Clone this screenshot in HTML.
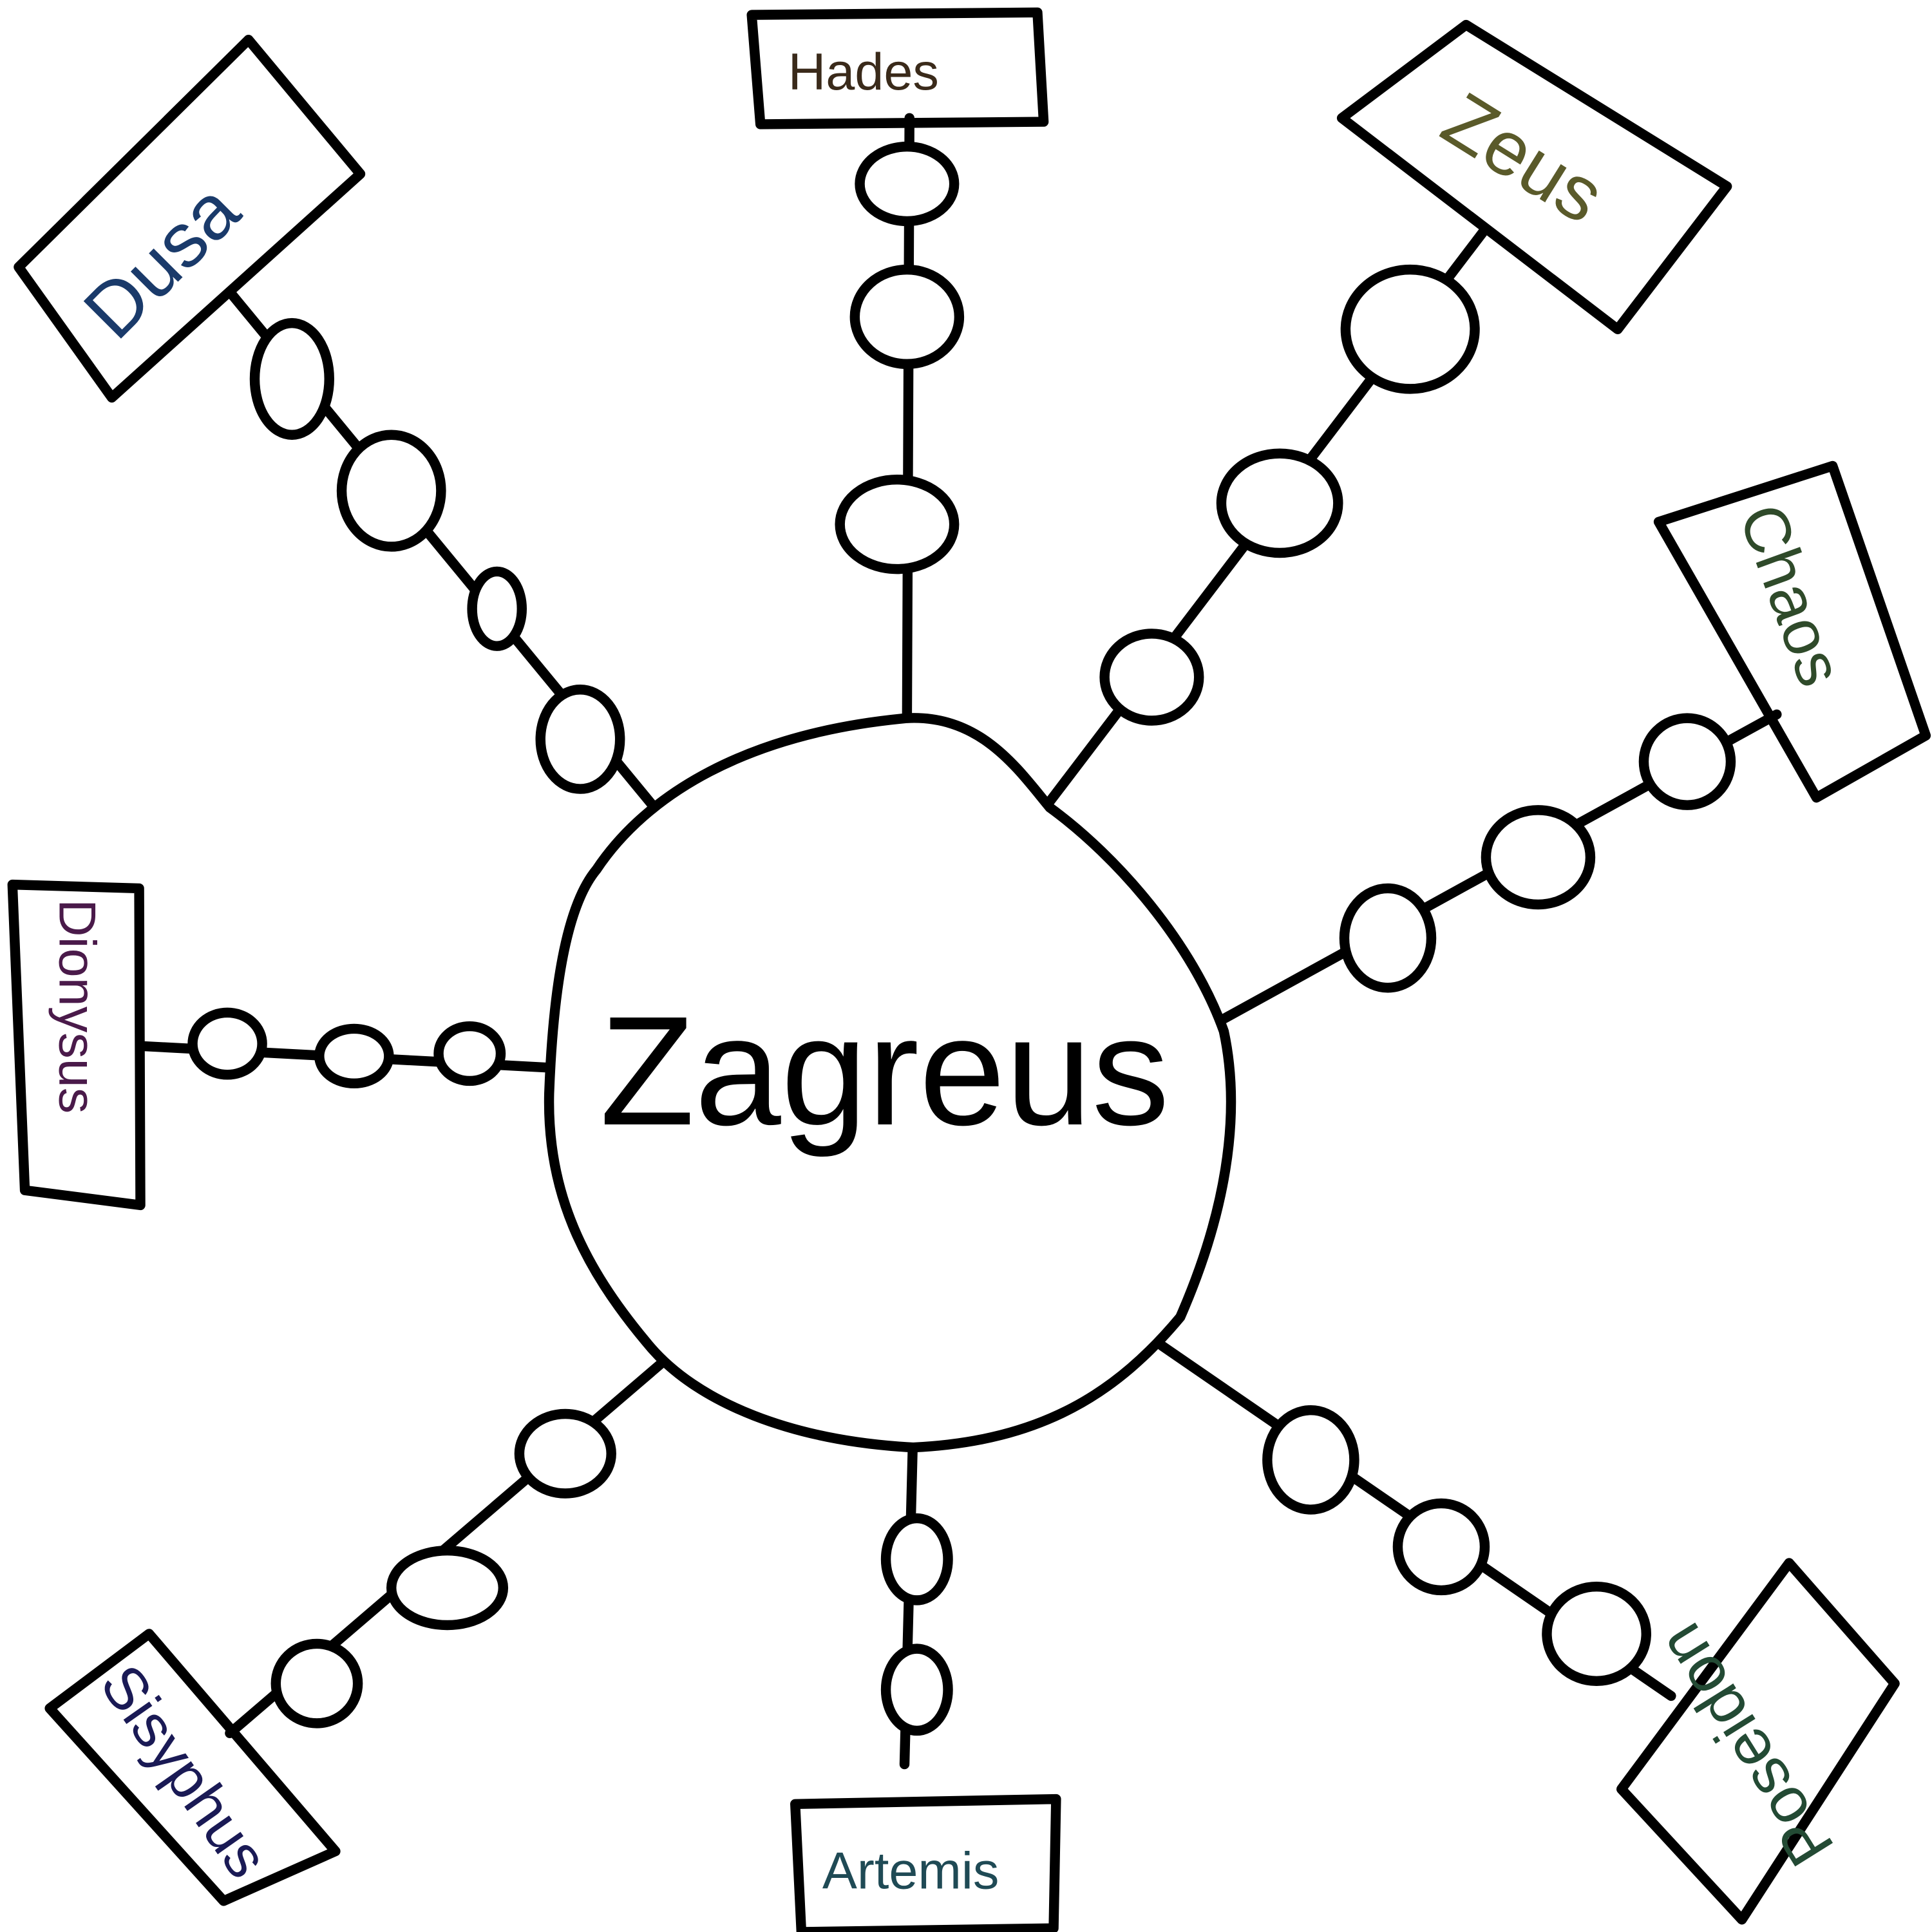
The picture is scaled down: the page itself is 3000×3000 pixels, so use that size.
<!DOCTYPE html>
<html><head><meta charset="utf-8"><style>
html,body{margin:0;padding:0;background:#fff;width:3000px;height:3000px;overflow:hidden}
svg{display:block}
text{font-family:"Liberation Sans",sans-serif}
</style></head><body>
<svg width="3000" height="3000" viewBox="0 0 1555 1555" xmlns="http://www.w3.org/2000/svg">
<g fill="none" stroke="#000" stroke-width="8" stroke-linecap="round" stroke-linejoin="round">
<path d="M732,95 L730,580"/>
<path d="M1195,185 L845,645"/>
<path d="M1430,575 L985,820"/>
<path d="M935,1083 L1345,1365"/>
<path d="M735,1150 L728,1420"/>
<path d="M535,1095 L185,1395"/>
<path d="M115,842 L455,860"/>
<path d="M185,235 L535,660"/>
<path d="M605,12 L835,10 L840,98 L612,100 Z"/>
<path d="M1080,95 L1180,20 L1390,150 L1302,265 Z"/>
<path d="M1335,420 L1475,375 L1550,592 L1462,642 Z"/>
<path d="M1440,1258 L1525,1355 L1402,1545 L1305,1440 Z"/>
<path d="M640,1452 L850,1448 L848,1552 L645,1555 Z"/>
<path d="M40,1375 L120,1315 L270,1490 L180,1530 Z"/>
<path d="M10,712 L112,715 L113,970 L20,958 Z"/>
<path d="M15,215 L200,32 L290,140 L90,320 Z"/>
</g>
<g fill="#fff" stroke="#000" stroke-width="8">
<path d="M730,578 C790,575 820,620 845,650 C900,690 960,760 985,830 C1000,900 985,980 950,1060 C900,1120 840,1160 735,1165 C640,1160 560,1130 520,1080 C470,1020 440,960 442,880 C445,800 455,730 480,700 C520,640 600,590 730,578 Z"/>
<ellipse cx="730" cy="148" rx="38" ry="30"/>
<ellipse cx="730" cy="255" rx="42" ry="38"/>
<ellipse cx="722" cy="422" rx="46" ry="36"/>
<ellipse cx="1135" cy="265" rx="52" ry="48"/>
<ellipse cx="1030" cy="405" rx="47" ry="40"/>
<ellipse cx="927" cy="545" rx="38" ry="35"/>
<ellipse cx="1358" cy="613" rx="35" ry="35"/>
<ellipse cx="1238" cy="690" rx="42" ry="38"/>
<ellipse cx="1117" cy="755" rx="35" ry="40"/>
<ellipse cx="1055" cy="1175" rx="35" ry="40"/>
<ellipse cx="1160" cy="1245" rx="35" ry="35"/>
<ellipse cx="1285" cy="1315" rx="40" ry="38"/>
<ellipse cx="738" cy="1255" rx="25" ry="33"/>
<ellipse cx="738" cy="1360" rx="25" ry="33"/>
<ellipse cx="455" cy="1170" rx="37" ry="32"/>
<ellipse cx="360" cy="1278" rx="45" ry="30"/>
<ellipse cx="255" cy="1355" rx="33" ry="32"/>
<ellipse cx="183" cy="840" rx="28" ry="25"/>
<ellipse cx="285" cy="850" rx="28" ry="22"/>
<ellipse cx="378" cy="848" rx="25" ry="22"/>
<ellipse cx="235" cy="305" rx="30" ry="45"/>
<ellipse cx="315" cy="395" rx="40" ry="45"/>
<ellipse cx="400" cy="490" rx="20" ry="30"/>
<ellipse cx="467" cy="595" rx="32" ry="40"/>
</g>
<text x="712" y="905" font-size="125" text-anchor="middle" fill="#000">Zagreus</text>
<text x="695" y="72" font-size="42" text-anchor="middle" fill="#3a2a1a">Hades</text>
<text transform="translate(1215,145) rotate(32)" font-size="62" text-anchor="middle" fill="#5a5a2a">Zeus</text>
<text transform="translate(1425,485) rotate(70)" font-size="52" text-anchor="middle" fill="#2f4a2a">Chaos</text>
<text transform="translate(1420,1395) rotate(-122)" font-size="52" text-anchor="middle" fill="#234a34">Poseidon</text>
<text x="733" y="1520" font-size="42" text-anchor="middle" fill="#1f4a55">Artemis</text>
<text transform="translate(135,1435) rotate(55)" font-size="48" text-anchor="middle" fill="#1a1a55">Sisyphus</text>
<text transform="translate(48,810) rotate(90)" font-size="42" text-anchor="middle" fill="#4a1a4a">Dionysus</text>
<text transform="translate(145,225) rotate(-45)" font-size="62" text-anchor="middle" fill="#1a3a6a">Dusa</text>
</svg>
</body></html>
